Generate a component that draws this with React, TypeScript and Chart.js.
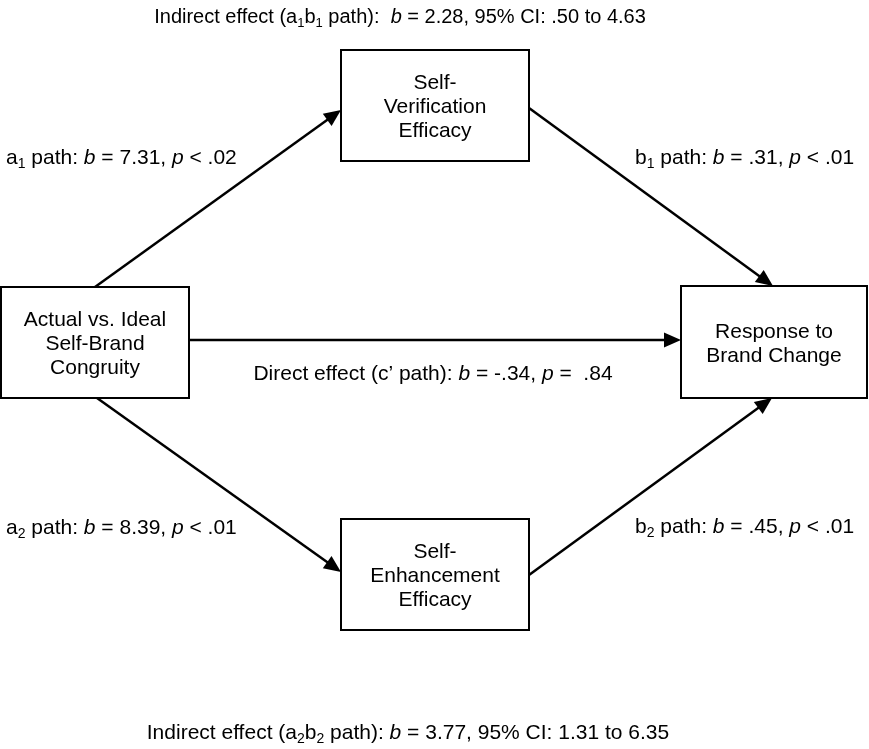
import React, { useEffect, useRef } from "react";
import { Chart, registerables } from "chart.js";

Chart.register(...registerables);

// ---- Nodes (variables) of the mediation model ----
const nodeLines: string[][] = [
  ["Actual vs. Ideal", "Self-Brand", "Congruity"],
  ["Self-", "Verification", "Efficacy"],
  ["Self-", "Enhancement", "Efficacy"],
  ["Response to", "Brand Change"],
];
// node extents in diagram units (scale units)
const nodeLeft = [1, 341, 341, 681];
const nodeRight = [189, 529, 529, 867];
const nodeTop = [287, 50, 519, 286];
const nodeBottom = [398, 161, 630, 398];

// ---- Paths (edges) ----
const pathNames = ["a", "b", "c’", "a", "b"];
const pathSubs = ["1", "1", "", "2", "2"];
const pathB = [7.31, 0.31, -0.34, 8.39, 0.45];
const pathPOp = ["<", "<", "=", "<", "<"];
const pathP = [0.02, 0.01, 0.84, 0.01, 0.01];
const pathStartX = [95, 529, 189, 97, 529];
const pathStartY = [287, 108, 340, 398, 575];
const pathEndX = [341, 773, 681, 341, 772];
const pathEndY = [110, 286, 340, 572, 398];
const pathLabelX = [6, 635, 433, 6, 635];
const pathLabelY = [156, 156, 372, 526, 525];
const pathLabelAlign = ["left", "left", "center", "left", "left"];

// ---- Indirect effects ----
const indirectSubs = ["1", "2"];
const indirectB = [2.28, 3.77];
const indirectCILow = [0.5, 1.31];
const indirectCIHigh = [4.63, 6.35];
const indirectLabelX = [400, 408];
const indirectLabelY = [16, 731];

const FONT = "'Liberation Sans', Arial, Helvetica, sans-serif";
const FS = 21;
const TITLE_FS = 20;

type Run = { t: string; k: "n" | "i" | "s" };

function fmt(v: number): string {
  const s = v.toFixed(2);
  return s.replace(/^(-?)0\./, "$1.");
}

function setFont(ctx: CanvasRenderingContext2D, k: Run["k"], fs: number) {
  if (k === "i") ctx.font = `italic ${fs}px ${FONT}`;
  else if (k === "s") ctx.font = `${Math.round(fs * 0.66)}px ${FONT}`;
  else ctx.font = `${fs}px ${FONT}`;
}

function runsWidth(ctx: CanvasRenderingContext2D, runs: Run[], fs: number) {
  let w = 0;
  for (const r of runs) {
    setFont(ctx, r.k, fs);
    w += ctx.measureText(r.t).width;
  }
  return w;
}

function drawRuns(
  ctx: CanvasRenderingContext2D,
  runs: Run[],
  x: number,
  yMid: number,
  align: string,
  fs: number = FS
) {
  const w = runsWidth(ctx, runs, fs);
  let cx = align === "center" ? x - w / 2 : x;
  const base = yMid + (fs * 0.716) / 2;
  ctx.textAlign = "left";
  ctx.textBaseline = "alphabetic";
  for (const r of runs) {
    setFont(ctx, r.k, fs);
    const dy = r.k === "s" ? fs * 0.2 : 0;
    ctx.fillText(r.t, cx, base + dy);
    cx += ctx.measureText(r.t).width;
  }
}

function pathRuns(i: number): Run[] {
  if (i === 2) {
    return [
      { t: "Direct effect (c’ path): ", k: "n" },
      { t: "b", k: "i" },
      { t: " = " + fmt(pathB[i]) + ", ", k: "n" },
      { t: "p", k: "i" },
      { t: " " + pathPOp[i] + "  " + fmt(pathP[i]), k: "n" },
    ];
  }
  return [
    { t: pathNames[i], k: "n" },
    { t: pathSubs[i], k: "s" },
    { t: " path: ", k: "n" },
    { t: "b", k: "i" },
    { t: " = " + fmt(pathB[i]) + ", ", k: "n" },
    { t: "p", k: "i" },
    { t: " " + pathPOp[i] + " " + fmt(pathP[i]), k: "n" },
  ];
}

function indirectRuns(j: number): Run[] {
  return [
    { t: "Indirect effect (a", k: "n" },
    { t: indirectSubs[j], k: "s" },
    { t: "b", k: "n" },
    { t: indirectSubs[j], k: "s" },
    { t: j === 0 ? " path):  " : " path): ", k: "n" },
    { t: "b", k: "i" },
    {
      t:
        " = " +
        fmt(indirectB[j]) +
        ", 95% CI: " +
        fmt(indirectCILow[j]) +
        " to " +
        fmt(indirectCIHigh[j]),
      k: "n",
    },
  ];
}

const diagramPlugin = {
  id: "diagram",
  beforeDraw(chart: any) {
    const ctx = chart.ctx as CanvasRenderingContext2D;
    ctx.save();
    ctx.fillStyle = "#ffffff";
    ctx.fillRect(0, 0, chart.width, chart.height);
    ctx.restore();
  },
  afterDatasetsDraw(chart: any) {
    const ctx = chart.ctx as CanvasRenderingContext2D;
    const xs = chart.scales.x;
    const ys = chart.scales.y;
    const px = (v: number) => xs.getPixelForValue(v);
    const py = (v: number) => ys.getPixelForValue(v);
    ctx.save();
    ctx.strokeStyle = "#000";
    ctx.fillStyle = "#000";

    // boxes
    for (let i = 0; i < nodeLines.length; i++) {
      const l = px(nodeLeft[i]);
      const r = px(nodeRight[i]);
      const t = py(nodeTop[i]);
      const b = py(nodeBottom[i]);
      ctx.lineWidth = 2;
      ctx.strokeRect(l, t, r - l, b - t);
      const lines = nodeLines[i];
      const lh = 24;
      const cx = (l + r) / 2;
      const cy = (t + b) / 2;
      for (let k = 0; k < lines.length; k++) {
        const y = cy + (k - (lines.length - 1) / 2) * lh;
        drawRuns(ctx, [{ t: lines[k], k: "n" }], cx, y, "center");
      }
    }

    // arrows
    for (let i = 0; i < pathStartX.length; i++) {
      const x0 = px(pathStartX[i]);
      const y0 = py(pathStartY[i]);
      const x1 = px(pathEndX[i]);
      const y1 = py(pathEndY[i]);
      const ang = Math.atan2(y1 - y0, x1 - x0);
      const hl = 17;
      const hw = 7.5;
      const bx = x1 - hl * Math.cos(ang);
      const by = y1 - hl * Math.sin(ang);
      ctx.lineWidth = 2.5;
      ctx.beginPath();
      ctx.moveTo(x0, y0);
      ctx.lineTo(bx + 2 * Math.cos(ang), by + 2 * Math.sin(ang));
      ctx.stroke();
      ctx.beginPath();
      ctx.moveTo(x1, y1);
      ctx.lineTo(bx - hw * Math.sin(ang), by + hw * Math.cos(ang));
      ctx.lineTo(bx + hw * Math.sin(ang), by - hw * Math.cos(ang));
      ctx.closePath();
      ctx.fill();
    }

    // path labels
    ctx.fillStyle = "#000";
    for (let i = 0; i < pathB.length; i++) {
      drawRuns(ctx, pathRuns(i), px(pathLabelX[i]), py(pathLabelY[i]), pathLabelAlign[i]);
    }
    // indirect effect labels
    for (let j = 0; j < indirectB.length; j++) {
      drawRuns(
        ctx,
        indirectRuns(j),
        px(indirectLabelX[j]),
        py(indirectLabelY[j]),
        "center",
        j === 0 ? TITLE_FS : FS
      );
    }
    ctx.restore();
  },
};

export default function App() {
  const ref = useRef<HTMLCanvasElement | null>(null);
  useEffect(() => {
    if (!ref.current) return;
    const centers = nodeLines.map((_, i) => ({
      x: (nodeLeft[i] + nodeRight[i]) / 2,
      y: (nodeTop[i] + nodeBottom[i]) / 2,
    }));
    const chart = new Chart(ref.current, {
      type: "scatter",
      data: {
        datasets: [
          {
            data: centers,
            pointRadius: 0,
            pointHoverRadius: 0,
          },
        ],
      },
      options: {
        animation: false,
        responsive: false,
        devicePixelRatio: 1,
        events: [],
        layout: { padding: 0 },
        plugins: {
          legend: { display: false },
          tooltip: { enabled: false },
          title: { display: false },
        },
        scales: {
          x: { type: "linear", min: 0, max: 869, display: false },
          y: { type: "linear", min: 0, max: 749, reverse: true, display: false },
        },
      },
      plugins: [diagramPlugin],
    });
    return () => chart.destroy();
  }, []);
  return (
    <div
      style={{
        position: "fixed",
        left: 0,
        top: 0,
        width: 869,
        height: 749,
        background: "#fff",
      }}
    >
      <canvas ref={ref} width={869} height={749} style={{ display: "block" }} />
    </div>
  );
}
